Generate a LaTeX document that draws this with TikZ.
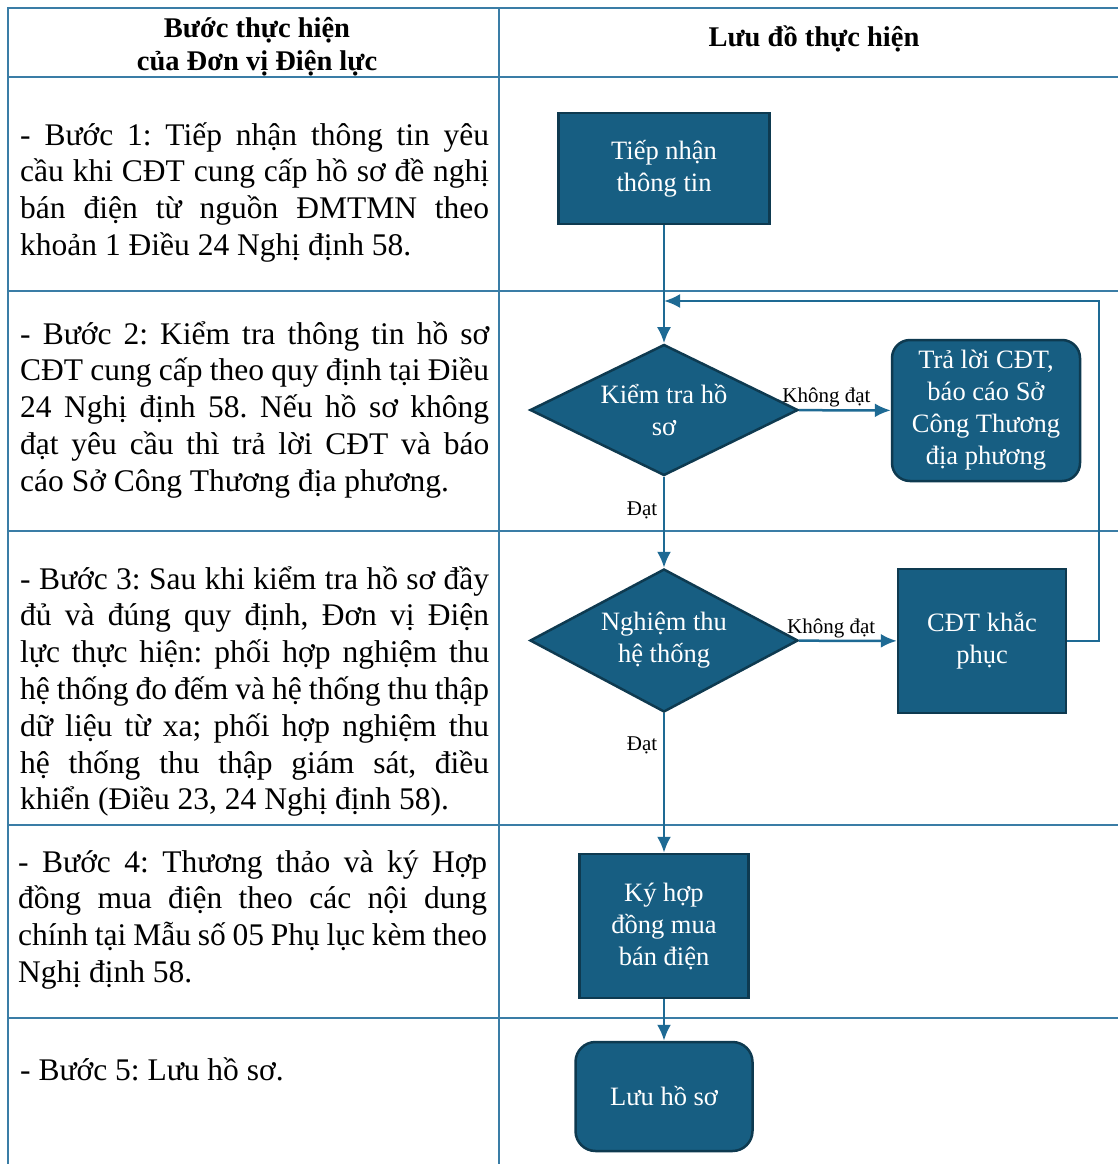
\documentclass[tikz,border=0pt]{standalone}
\usepackage{fontspec}
\setmainfont{Liberation Serif}
\usetikzlibrary{shapes.geometric,arrows.meta}
\tikzset{>={Latex[length=16pt,width=14pt]}}
\definecolor{boxfill}{HTML}{175E82}
\definecolor{boxline}{HTML}{0E3A50}
\definecolor{flowline}{HTML}{1E6A94}
\definecolor{gridline}{HTML}{3A7DA6}
\newcommand{\stepfont}{\fontsize{31.5}{36.8}\selectfont}
\newcommand{\boxfont}{\fontsize{26.5}{32}\selectfont}
\hyphenpenalty=10000
\exhyphenpenalty=10000
\frenchspacing

\begin{document}
\begin{tikzpicture}[x=1pt,y=-1pt]
\useasboundingbox (0,0) rectangle (1118,1164);
\fill[white] (0,0) rectangle (1118,1164);
% table grid
\begin{scope}[draw=gridline,line width=1.5pt]
\draw (8,1164) -- (8,8) -- (1118,8);
\draw (499,8) -- (499,1164);
\foreach \y in {77,291,531,825,1018}
  \draw (8,\y) -- (1118,\y);
\end{scope}
% headers
\node[align=center,font=\bfseries\fontsize{28.5}{33}\selectfont] (H1) at (257,47) {Bước thực hiện\\của Đơn vị Điện lực};
\node[font=\bfseries\fontsize{28.5}{33}\selectfont] (H2) at (814,39) {Lưu đồ thực hiện};
% steps
\begin{scope}[every node/.style={anchor=base west,text width=469pt,align=justify,inner sep=0pt,font=\stepfont}]
\node (S1) at (20,145) {- Bước 1: Tiếp nhận thông tin yêu\linebreak cầu khi CĐT cung cấp hồ sơ đề nghị\linebreak bán điện từ nguồn ĐMTMN theo\linebreak khoản 1 Điều 24 Nghị định 58.};
\node (S2) at (20,344) {- Bước 2: Kiểm tra thông tin hồ sơ\linebreak CĐT cung cấp theo quy định tại Điều\linebreak 24 Nghị định 58. Nếu hồ sơ không\linebreak đạt yêu cầu thì trả lời CĐT và báo\linebreak cáo Sở Công Thương địa phương.};
\node (S3) at (20,589) {- Bước 3: Sau khi kiểm tra hồ sơ đầy\linebreak đủ và đúng quy định, Đơn vị Điện\linebreak lực thực hiện: phối hợp nghiệm thu\linebreak hệ thống đo đếm và hệ thống thu thập\linebreak dữ liệu từ xa; phối hợp nghiệm thu\linebreak hệ thống thu thập giám sát, điều\linebreak khiển (Điều 23, 24 Nghị định 58).};
\node (S4) at (18,872) {- Bước 4: Thương thảo và ký Hợp\linebreak đồng mua điện theo các nội dung\linebreak chính tại Mẫu số 05 Phụ lục kèm theo\linebreak Nghị định 58.};
\node (S5) at (20,1080) {- Bước 5: Lưu hồ sơ.};
\end{scope}
% flowchart
\begin{scope}[every node/.style={fill=boxfill,draw=boxline,line width=2.5pt,text=white,align=center,inner sep=0pt,font=\boxfont},
    procbox/.style={rectangle,minimum width=#1,minimum height=144pt},
    endbox/.style={rectangle,rounded corners=20pt},
    decbox/.style={diamond,aspect=2,minimum width=268pt,minimum height=#1}]
\node[procbox=211pt,minimum height=111pt] (B1) at (664,168.5) {Tiếp nhận\\thông tin};
\node[decbox=131pt] (D1) at (664,410) {Kiểm tra hồ\\sơ};
\node[endbox,minimum width=188pt,minimum height=141pt,rounded corners=18pt] (B2) at (986,410.5) {Trả lời CĐT,\\báo cáo Sở\\Công Thương\\địa phương};
\node[decbox=143pt] (D2) at (664,640.5) {Nghiệm thu\\hệ thống};
\node[procbox=168pt] (B3) at (982,641) {CĐT khắc\\phục};
\node[procbox=169pt] (B4) at (664,926) {Ký hợp\\đồng mua\\bán điện};
\node[endbox,minimum width=177pt,minimum height=109pt] (B5) at (664,1096.5) {Lưu hồ sơ};
\end{scope}
\coordinate (R) at (1099,301);
\coordinate (J) at (664,301);
\begin{scope}[every node/.style={font=\fontsize{21}{24}\selectfont,inner sep=1.5pt},
    every edge/.style={draw=flowline,line width=2.5pt}]
    \path [->] (B1) edge (D1);
    \path [->] (D1) edge node[above,pos=.3] {Không đạt} (B2);
    \path [->] (D1) edge node[left=4pt,pos=.37] {Đạt} (D2);
    \path [->] (D2) edge node[above,pos=.33] {Không đạt} (B3);
    \path [->] (D2) edge node[left=4pt,pos=.23] {Đạt} (B4);
    \path [->] (B4) edge (B5);
    \draw [->,flowline,line width=2.5pt] (B3.east) -| (R) -- (J);
\end{scope}
\end{tikzpicture}
\end{document}
